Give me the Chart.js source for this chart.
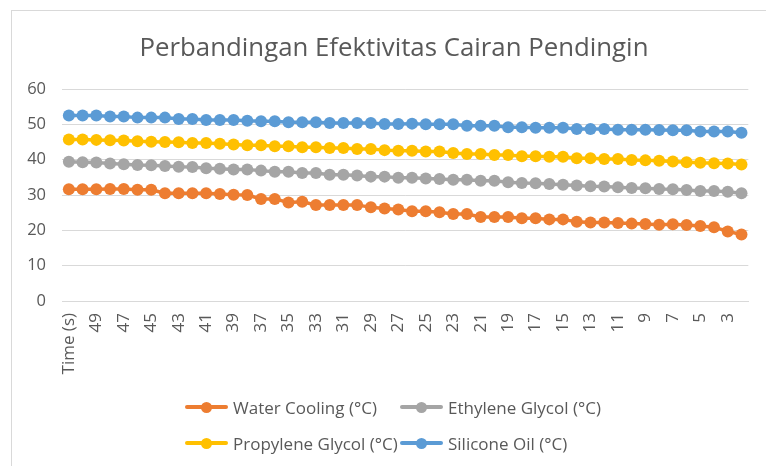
<!DOCTYPE html>
<html>
<head>
<meta charset="utf-8">
<script src="https://cdn.jsdelivr.net/npm/chart.js@4"></script>
<style>
  html, body { margin: 0; padding: 0; background: #fff; }
  #wrap { position: relative; width: 766px; height: 466px; overflow: hidden; font-family: 'Open Sans', sans-serif; }
  #frame { position: absolute; left: 11px; top: 10px; width: 800px; height: 500px;
           border-left: 1px solid #d9d9d9; border-top: 1px solid #d9d9d9; }
  #grafico { position: absolute; left: 0; top: 0; }
  #titulo { position: absolute; left: 0; top: 31px; width: 788px; text-align: center;
            font-size: 25.8px; line-height: 30px; color: #595959; white-space: nowrap; }
  #legenda { position: absolute; left: 185px; top: 394px; display: grid;
             grid-template-columns: 215px 200px; row-gap: 10px; color: #595959; font-size: 17px; }
  .item { display: flex; align-items: center; height: 26px; white-space: nowrap; }
  .marca { position: relative; width: 43px; height: 4px; border-radius: 2px; margin-right: 5px; flex: none; }
  .marca span { position: absolute; left: 16px; top: -3.5px; width: 11px; height: 11px; border-radius: 50%; }
</style>
</head>
<body>
<div id="wrap">
  <div id="frame"></div>
  <canvas id="grafico" width="766" height="466"></canvas>
  <div id="titulo">Perbandingan Efektivitas Cairan Pendingin</div>
  <div id="legenda"></div>
</div>
<script>
const categorias = ['Time (s)', '50', '49', '48', '47', '46', '45', '44', '43', '42', '41', '40', '39', '38', '37', '36',
  '35', '34', '33', '32', '31', '30', '29', '28', '27', '26', '25', '24', '23', '22', '21', '20', '19', '18', '17',
  '16', '15', '14', '13', '12', '11', '10', '9', '8', '7', '6', '5', '4', '3', '2'];

const waterCooling = [31.6, 31.6, 31.6, 31.7, 31.7, 31.5, 31.5, 30.5, 30.5, 30.5,
  30.5, 30.3, 30.1, 30.0, 28.9, 28.9, 27.9, 28.1, 27.2, 27.2,
  27.2, 27.2, 26.5, 26.2, 25.9, 25.4, 25.4, 25.1, 24.6, 24.6,
  23.8, 23.8, 23.8, 23.4, 23.4, 23.1, 23.1, 22.4, 22.2, 22.2,
  22.1, 21.9, 21.8, 21.6, 21.7, 21.5, 21.2, 20.9, 19.7, 18.8];

const ethyleneGlycol = [39.4, 39.3, 39.2, 38.9, 38.7, 38.5, 38.4, 38.2, 38.0, 37.9,
  37.6, 37.4, 37.2, 37.2, 36.9, 36.6, 36.6, 36.2, 36.2, 35.7,
  35.7, 35.5, 35.2, 35.2, 34.9, 34.9, 34.7, 34.5, 34.3, 34.3,
  34.0, 34.0, 33.6, 33.4, 33.3, 33.1, 32.9, 32.7, 32.5, 32.4,
  32.2, 32.0, 31.9, 31.7, 31.6, 31.4, 31.1, 31.1, 30.9, 30.5];

const propyleneGlycol = [45.7, 45.7, 45.6, 45.5, 45.4, 45.2, 45.1, 45.0, 44.9, 44.7,
  44.7, 44.5, 44.3, 44.1, 44.1, 43.8, 43.8, 43.5, 43.5, 43.3,
  43.3, 43.0, 43.0, 42.7, 42.5, 42.5, 42.3, 42.3, 41.9, 41.6,
  41.6, 41.3, 41.3, 41.0, 41.0, 40.8, 40.8, 40.4, 40.4, 40.2,
  40.2, 39.9, 39.8, 39.7, 39.5, 39.3, 39.1, 39.0, 38.9, 38.6];

const siliconeOil = [52.5, 52.5, 52.5, 52.2, 52.2, 51.9, 51.9, 51.9, 51.5, 51.5,
  51.2, 51.2, 51.2, 51.0, 50.9, 50.9, 50.6, 50.6, 50.6, 50.4,
  50.4, 50.4, 50.4, 50.1, 50.1, 50.2, 50.0, 50.0, 50.0, 49.6,
  49.6, 49.6, 49.2, 49.2, 49.0, 49.0, 49.0, 48.7, 48.7, 48.7,
  48.5, 48.5, 48.5, 48.4, 48.3, 48.3, 48.0, 48.0, 48.0, 47.6];

const nomesSeries = ['Water Cooling (°C)', 'Ethylene Glycol (°C)', 'Propylene Glycol (°C)', 'Silicone Oil (°C)'];
const coresSeries = ['#ED7D31', '#A5A5A5', '#FFC000', '#5B9BD5'];
const valoresSeries = [waterCooling, ethyleneGlycol, propyleneGlycol, siliconeOil];

const corTexto = '#595959';
const corGrade = '#d9d9d9';

const datasets = valoresSeries.map((valores, i) => ({
    label: nomesSeries[i],
    data: valores,
    borderColor: coresSeries[i],
    backgroundColor: coresSeries[i],
    borderWidth: 3.5,
    pointRadius: 6,
    pointBorderWidth: 0,
    pointHoverRadius: 6,
    tension: 0,
    order: nomesSeries.length - i
}));

const ctx = document.getElementById('grafico').getContext('2d');
new Chart(ctx, {
    type: 'line',
    data: { labels: categorias, datasets },
    options: {
        responsive: false,
        animation: false,
        layout: { padding: { left: 11, right: 12, top: 89, bottom: 70 } },
        plugins: {
            legend: { display: false },
            tooltip: { enabled: false },
            title: { display: false }
        },
        scales: {
            x: {
                offset: true,
                grid: { display: false },
                border: { color: corGrade },
                ticks: {
                    autoSkip: false,
                    maxRotation: 90,
                    minRotation: 90,
                    padding: 4,
                    color: corTexto,
                    font: { family: 'Open Sans', size: 17 },
                    callback: (v, i) => (i % 2 === 0 ? categorias[i] : '')
                },
                afterFit: (scale) => { scale.height = 95; }
            },
            y: {
                min: 0,
                max: 60,
                grid: { color: corGrade, drawTicks: false },
                border: { display: false },
                ticks: {
                    stepSize: 10,
                    padding: 16,
                    color: corTexto,
                    font: { family: 'Open Sans', size: 16.5 }
                },
                afterFit: (scale) => { scale.width = 51; }
            }
        }
    }
});

// legenda em grade, como no Excel
const legenda = document.getElementById('legenda');
nomesSeries.forEach((nome, i) => {
    const item = document.createElement('div');
    item.className = 'item';
    item.innerHTML = `<div class="marca" style="background:${coresSeries[i]}"><span style="background:${coresSeries[i]}"></span></div>${nome}`;
    legenda.appendChild(item);
});
</script>
</body>
</html>
